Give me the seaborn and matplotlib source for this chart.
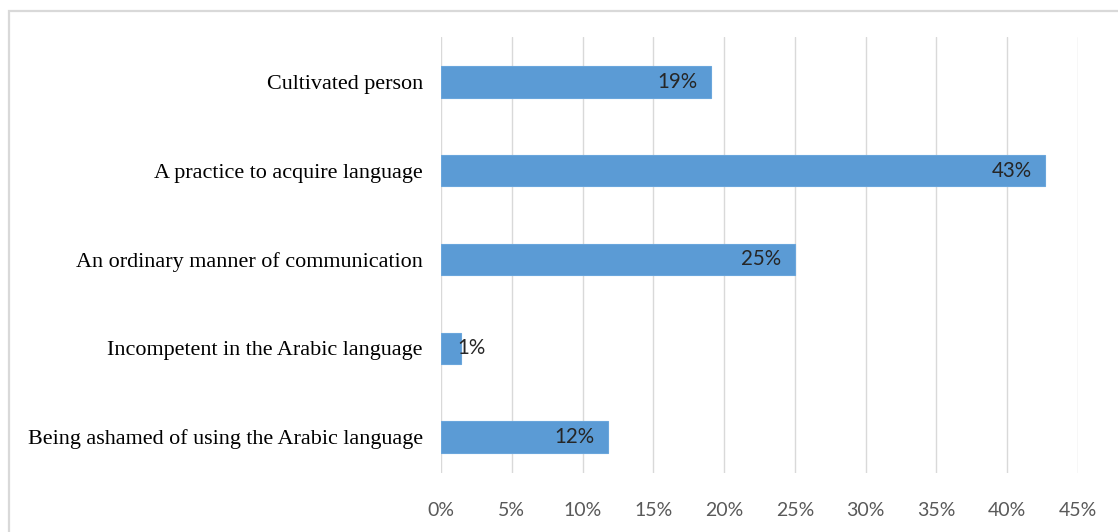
import matplotlib
matplotlib.use("Agg")
import matplotlib.pyplot as plt
from matplotlib.patches import Rectangle
from matplotlib.ticker import MultipleLocator, FuncFormatter
import seaborn as sns
import pandas as pd

categories = [
    "Cultivated person",
    "A practice to acquire language",
    "An ordinary manner of communication",
    "Incompetent in the Arabic language",
    "Being ashamed of using the Arabic language",
]
shares = [19.1, 42.7, 25.0, 1.4, 11.8]

df = pd.DataFrame({"category": categories, "share": shares})

sns.set_theme(style="white")
plt.rcParams["font.family"] = ["Lato", "DejaVu Sans"]

W, H = 1118, 532
fig = plt.figure(figsize=(W / 100, H / 100), dpi=100)

# light outer frame of the chart area
fig.patches.append(Rectangle((9 / W, -0.1), 1.2, 1 - 11 / H + 0.1,
                             transform=fig.transFigure, fill=False,
                             edgecolor="#d9d9d9", linewidth=1.6))

ax = fig.add_axes([441 / W, 1 - 473 / H, 637 / W, (473 - 37) / H])

sns.barplot(data=df, x="share", y="category", orient="h",
            color="#5B9BD5", saturation=1, width=0.35, ax=ax,
            edgecolor="#6aa6dc", linewidth=0.8)

ax.set_xlim(0, 45)
ax.set_ylim(4.406, -0.507)
ax.xaxis.set_major_locator(MultipleLocator(5))
ax.xaxis.set_major_formatter(FuncFormatter(lambda v, p: f"{v:.0f}%"))
ax.grid(axis="x", color="#d9d9d9", linewidth=1.0)
ax.set_axisbelow(True)
for s in ax.spines.values():
    s.set_visible(False)
ax.set_xlabel("")
ax.set_ylabel("")
ax.tick_params(axis="x", length=0, pad=21, labelsize=14, labelcolor="#595959")
ax.tick_params(axis="y", length=0, pad=13)
for lbl in ax.get_yticklabels():
    lbl.set_fontfamily("Liberation Serif")
    lbl.set_fontsize(15.9)
    lbl.set_color("#000000")

# value labels at the inner end of each bar
for i, v in enumerate(shares):
    text = f"{v:.0f}%"
    if v < 4:
        ax.annotate(text, (0, i), xytext=(12, 0), textcoords="offset points",
                    ha="left", va="center", fontsize=14.8, color="#262626")
    else:
        ax.annotate(text, (v, i), xytext=(-10, 0), textcoords="offset points",
                    ha="right", va="center", fontsize=14.8, color="#262626")

fig.savefig("out.png", dpi=100, facecolor="white")
